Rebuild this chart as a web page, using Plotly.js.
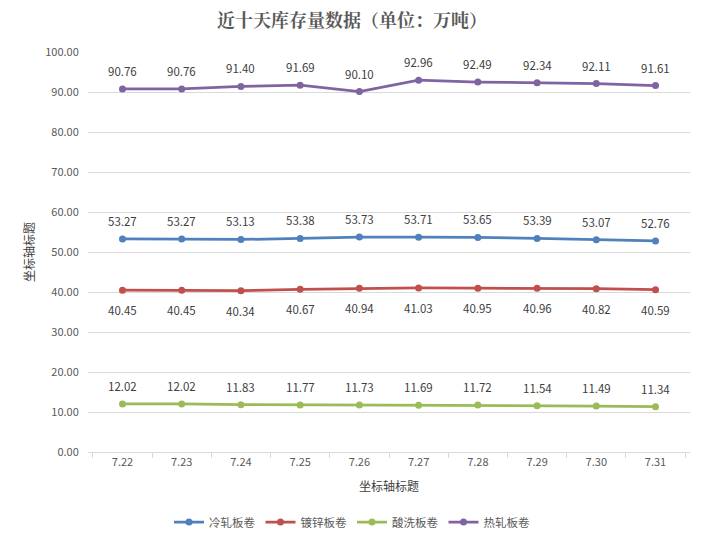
<!DOCTYPE html>
<html><head><meta charset="utf-8">
<script src="https://cdn.plot.ly/plotly-3.0.1.min.js"></script>
<style>body{margin:0;background:#fff}#c{width:704px;height:541px}</style>
</head><body><div id="c"></div>
<script>
var dates = ['7.22','7.23','7.24','7.25','7.26','7.27','7.28','7.29','7.30','7.31'];
var coldRolled = [53.27,53.27,53.13,53.38,53.73,53.71,53.65,53.39,53.07,52.76];
var galvanized = [40.45,40.45,40.34,40.67,40.94,41.03,40.95,40.96,40.82,40.59];
var pickled = [12.02,12.02,11.83,11.77,11.73,11.69,11.72,11.54,11.49,11.34];
var hotRolled = [90.76,90.76,91.40,91.69,90.10,92.96,92.49,92.34,92.11,91.61];
var names = ['冷轧板卷','镀锌板卷','酸洗板卷','热轧板卷'];
var colors = ['#4F81BD','#C0504D','#9BBB59','#8064A2'];
var series = [coldRolled, galvanized, pickled, hotRolled];
var labelShift = [18,-20,18,18];
var font = 'Microsoft YaHei, "Noto Sans CJK SC", "Noto Sans", sans-serif';
var traces = series.map(function(v,i){
  return {x:dates, y:v, name:names[i], type:'scatter', mode:'lines+markers',
    line:{color:colors[i],width:2.75}, marker:{color:colors[i],size:7}, cliponaxis:false};
});
var annotations = [];
series.forEach(function(v,i){
  v.forEach(function(d,j){
    annotations.push({x:j, y:d, xref:'x', yref:'y', text:d.toFixed(2), showarrow:false,
      yshift:labelShift[i], xanchor:'center', yanchor:'middle',
      font:{size:11.5,color:'#404040',family:font}});
  });
});
var layout = {
  width:704, height:541, paper_bgcolor:'#fff', plot_bgcolor:'#fff',
  margin:{l:88,r:14,t:52,b:89},
  font:{family:font,color:'#595959',size:11},
  annotations:annotations,
  title:{text:'近十天库存量数据（单位：万吨）', x:0.5, xanchor:'center', y:0.962, yanchor:'middle',
    font:{size:18,color:'#595959',family:'"Noto Serif CJK SC", "Noto Sans CJK SC", serif',weight:'bold'}},
  xaxis:{type:'category', tickson:'boundaries', ticks:'outside', ticklen:5, tickcolor:'#D9D9D9',
    showline:true, linecolor:'#D9D9D9', showgrid:false, tickfont:{size:11,color:'#595959'},
    title:{text:'坐标轴标题', font:{size:12,color:'#404040'}, standoff:14}},
  yaxis:{range:[0,100], dtick:10, tickformat:'.2f', showgrid:true, gridcolor:'#D9D9D9', zeroline:false,
    showline:false, ticks:'outside', ticklen:6, tickcolor:'rgba(0,0,0,0)', tickfont:{size:11,color:'#595959'},
    title:{text:'坐标轴标题', font:{size:12,color:'#404040'}, standoff:8}},
  showlegend:true,
  legend:{orientation:'h', xref:'container', x:0.5, xanchor:'center', yref:'container', y:0.035, yanchor:'middle',
    font:{size:11.5,color:'#595959'}, itemwidth:30, traceorder:'normal'}
};
Plotly.newPlot('c', traces, layout, {displayModeBar:false, staticPlot:true});
</script></body></html>
